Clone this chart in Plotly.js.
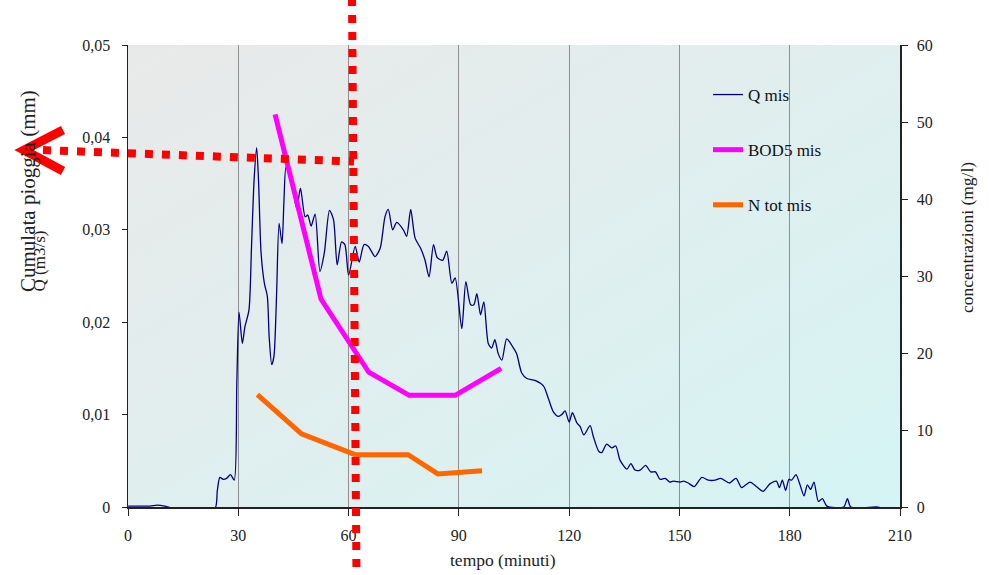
<!DOCTYPE html>
<html>
<head>
<meta charset="utf-8">
<script src="https://cdn.plot.ly/plotly-3.0.1.min.js"></script>
<style>
  html, body { margin: 0; padding: 0; background: #ffffff; }
  #chart { width: 989px; height: 575px; }
</style>
</head>
<body>
<div id="chart"></div>
<script>
// Measured discharge (m3/s) against time (minutes)
const qTime = [0, 3, 6, 8, 10, 12, 16, 20, 23.7, 24.3, 25.0, 25.9, 26.8, 27.9, 28.9, 29.6, 30.2, 31.1, 31.8, 32.9,
  33.6, 34.3, 35.0, 35.5, 36.2, 37.1, 37.9, 38.4, 39.1, 39.7, 40.4, 41.1, 41.9, 42.4, 43.0, 44.7, 45.9, 46.9, 48.2, 48.9,
  49.8, 50.9, 52.2, 53.4, 54.8, 55.9, 56.9, 58.1, 59.0, 60.0, 61.8, 62.9, 64.2, 65.4, 67.2, 68.6, 69.9, 70.8, 72.0, 73.1,
  74.9, 75.8, 76.9, 78.1, 79.6, 80.8, 81.9, 83.1, 84.1, 85.6, 86.7, 88.1, 89.0, 90.8, 91.9, 93.2, 94.1, 94.9, 95.9, 96.8,
  98.0, 98.9, 99.8, 100.7, 101.7, 103.0, 104.4, 105.7, 107.1, 108.5, 110.7, 113.0, 114.3, 115.7, 117.1, 118.0, 118.9, 120.0, 120.9, 122.1,
  123.0, 124.0, 125.7, 126.6, 128.1, 128.9, 130.2, 131.6, 132.7, 133.8, 135.7, 136.8, 137.9, 139.3, 140.8, 142.2, 143.5, 144.7, 146.1, 147.4,
  148.3, 150.2, 151.1, 152.4, 154.0, 156.1, 157.9, 159.7, 161.2, 163.6, 165.4, 166.9, 169.2, 171.0, 172.8, 174.6, 176.4, 177.2, 178.0, 178.9,
  179.8, 180.5, 181.7, 182.8, 183.9, 184.8, 185.7, 186.6, 187.8, 188.9, 190.1, 194.7, 195.7, 196.6, 203.7, 205, 210];
const qMis = [0.0001, 0.0001, 0.0001, 0.0002, 0.0001, -0.0001, -0.0001, -0.0001, -0.0001, 0.0018, 0.0032, 0.0030, 0.0031, 0.0035, 0.0029, 0.0134, 0.0211, 0.0177, 0.0195, 0.0213,
  0.0282, 0.0354, 0.0389, 0.0354, 0.0275, 0.0242, 0.0228, 0.0184, 0.0154, 0.0163, 0.0228, 0.0307, 0.0285, 0.0329, 0.0368, 0.0347, 0.0323, 0.0345, 0.0314, 0.0316,
  0.0304, 0.0317, 0.0255, 0.0275, 0.0321, 0.0311, 0.0262, 0.0287, 0.0284, 0.0251, 0.0282, 0.0265, 0.0284, 0.0282, 0.0271, 0.0280, 0.0314, 0.0322, 0.0300, 0.0308,
  0.0300, 0.0293, 0.0322, 0.0291, 0.0280, 0.0267, 0.0249, 0.0284, 0.0270, 0.0267, 0.0277, 0.0242, 0.0248, 0.0193, 0.0244, 0.0219, 0.0219, 0.0231, 0.0208, 0.0222,
  0.0177, 0.0172, 0.0181, 0.0166, 0.0159, 0.0182, 0.0175, 0.0166, 0.0145, 0.0139, 0.0137, 0.0131, 0.0118, 0.0103, 0.0098, 0.0100, 0.0104, 0.0092, 0.0102, 0.0091,
  0.0087, 0.0078, 0.0088, 0.0076, 0.0060, 0.0059, 0.0068, 0.0064, 0.0066, 0.0051, 0.0041, 0.0047, 0.0040, 0.0040, 0.0045, 0.0038, 0.0038, 0.0030, 0.0031, 0.0027,
  0.0028, 0.0027, 0.0028, 0.0026, 0.0022, 0.0032, 0.0029, 0.0029, 0.0031, 0.0026, 0.0031, 0.0021, 0.0027, 0.0022, 0.0017, 0.0025, 0.0028, 0.0021, 0.0029, 0.0018,
  0.0030, 0.0029, 0.0035, 0.0024, 0.0012, 0.0024, 0.0019, 0.0027, 0.0006, 0.0009, 0.0001, 0, 0.0009, 0, 0, -0.0001, -0.0001];

// Sampled concentrations (mg/l)
const bodTime = [40, 52.5, 65.5, 76.5, 89, 101.5];
const bodMis = [51, 27, 17.5, 14.5, 14.5, 18];
const nTime = [35.2, 47.2, 61.8, 76.2, 84.3, 96.3];
const nTotMis = [14.6, 9.5, 6.8, 6.8, 4.3, 4.7];

// Axis ticks
const timeTicks = [0, 30, 60, 90, 120, 150, 180, 210];
const qTickVals = [0, 0.01, 0.02, 0.03, 0.04, 0.05];
const qTickText = ['0', '0,01', '0,02', '0,03', '0,04', '0,05'];
const concTicks = [0, 10, 20, 30, 40, 50, 60];

const SERIF = 'Liberation Serif, Times New Roman, serif';
const W = 989, H = 575;
const M = { l: 128, r: 89, t: 45, b: 68 };
const PW = W - M.l - M.r, PH = H - M.t - M.b;
// pixel -> paper helpers for the hand-drawn red markers
const px = v => (v - M.l) / PW;
const py = v => (H - M.b - v) / PH;

const traces = [
  { x: qTime, y: qMis, name: 'Q mis', type: 'scatter', mode: 'lines', yaxis: 'y',
    line: { color: '#000080', width: 1.3, shape: 'spline', smoothing: 0.7 }, legendgroup: 'a' },
  { x: bodTime, y: bodMis, name: 'BOD5 mis', type: 'scatter', mode: 'lines', yaxis: 'y2',
    line: { color: '#FF00FF', width: 5 }, legendgroup: 'b' },
  { x: nTime, y: nTotMis, name: 'N tot mis', type: 'scatter', mode: 'lines', yaxis: 'y2',
    line: { color: '#FF6600', width: 5 }, legendgroup: 'c' }
];

const gradSvg = "<svg xmlns='http://www.w3.org/2000/svg' width='772' height='462' preserveAspectRatio='none'>" +
  "<defs><linearGradient id='g' x1='0' y1='0' x2='1' y2='1'>" +
  "<stop offset='0' stop-color='#e9e9e9'/><stop offset='0.5' stop-color='#e0eeee'/><stop offset='1' stop-color='#d5f4f4'/>" +
  "</linearGradient></defs><rect width='772' height='462' fill='url(#g)'/></svg>";

const red = '#FF0000';
const tickFont = { family: SERIF, size: 16, color: '#222' };
const layout = {
  width: W, height: H,
  margin: M,
  paper_bgcolor: '#ffffff',
  plot_bgcolor: 'rgba(0,0,0,0)',
  separators: ',.',
  showlegend: true,
  font: { family: SERIF, size: 16, color: '#222' },
  images: [{
    source: 'data:image/svg+xml;charset=utf-8,' + encodeURIComponent(gradSvg),
    xref: 'paper', yref: 'paper', x: 0, y: 1, sizex: 1, sizey: 1,
    sizing: 'stretch', xanchor: 'left', yanchor: 'top', layer: 'below'
  }],
  xaxis: {
    range: [0, 210], tickvals: timeTicks, ticks: 'outside', ticklen: 7, tickcolor: '#222',
    showgrid: true, gridcolor: '#8f8f8f', gridwidth: 1, zeroline: false,
    showline: true, linecolor: '#222', linewidth: 1.5,
    ticklabelstandoff: 6, tickfont: tickFont
  },
  yaxis: {
    range: [0, 0.05], tickvals: qTickVals, ticktext: qTickText, ticks: 'outside', ticklen: 5, tickcolor: '#222',
    showgrid: false, zeroline: false, showline: true, linecolor: '#222', linewidth: 1.5,
    ticklabelstandoff: 8, tickfont: tickFont
  },
  yaxis2: {
    range: [0, 60], tickvals: concTicks, overlaying: 'y', side: 'right', ticks: 'outside', ticklen: 6, tickcolor: '#222',
    showgrid: false, zeroline: false, showline: true, linecolor: '#222', linewidth: 1.5,
    ticklabelstandoff: 6, tickfont: tickFont
  },
  legend: {
    x: px(708), y: py(77), xanchor: 'left', yanchor: 'top',
    bgcolor: 'rgba(0,0,0,0)', borderwidth: 0,
    traceorder: 'grouped', tracegroupgap: 30,
    font: { family: SERIF, size: 17, color: '#111' }
  },
  annotations: [
    { text: 'Cumulata pioggia (mm)', xref: 'paper', yref: 'paper', x: px(28), y: py(294),
      xanchor: 'center', yanchor: 'bottom', textangle: -90, showarrow: false,
      font: { family: SERIF, size: 21, color: '#222' } },
    { text: 'Q (m3/s)', xref: 'paper', yref: 'paper', x: px(39), y: py(294),
      xanchor: 'center', yanchor: 'bottom', textangle: -90, showarrow: false,
      font: { family: SERIF, size: 17, color: '#222' } },
    { text: 'concentrazioni (mg/l)', xref: 'paper', yref: 'paper', x: px(967), y: py(238),
      xanchor: 'center', yanchor: 'middle', textangle: -90, showarrow: false,
      font: { family: SERIF, size: 17.5, color: '#222' } },
    { text: 'tempo (minuti)', xref: 'paper', yref: 'paper', x: px(503), y: py(560),
      xanchor: 'center', yanchor: 'middle', showarrow: false,
      font: { family: SERIF, size: 17.5, color: '#222' } }
  ],
  shapes: [
    // dotted pointer along the peak level, ending in an arrowhead at the left margin
    { type: 'line', xref: 'paper', yref: 'paper', x0: px(26), y0: py(149.5), x1: px(354), y1: py(161.5),
      line: { color: red, width: 8, dash: '8px,9px' } },
    { type: 'path', xref: 'paper', yref: 'paper',
      path: 'M ' + px(63) + ',' + py(130) + ' L ' + px(24) + ',' + py(150) + ' L ' + px(63) + ',' + py(171),
      line: { color: red, width: 9 } },
    // dotted marker across the whole figure near t = 62 min
    { type: 'line', xref: 'paper', yref: 'paper', x0: px(352), y0: py(-2), x1: px(356.5), y1: py(577),
      line: { color: red, width: 8, dash: '8px,9px' } }
  ]
};

Plotly.newPlot('chart', traces, layout, { displayModeBar: false, staticPlot: true });
</script>
</body>
</html>
